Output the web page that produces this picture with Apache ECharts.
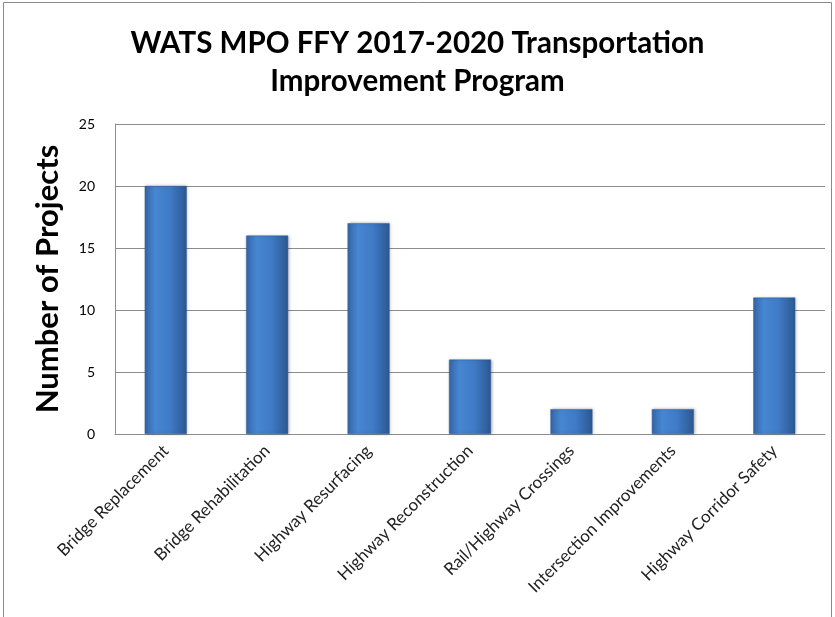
<!DOCTYPE html>
<html>
<head>
<meta charset="utf-8">
<script src="https://cdn.jsdelivr.net/npm/echarts@6/dist/echarts.min.js"></script>
<style>
  html, body { margin: 0; padding: 0; background: #fff; }
  #ChartBar { width: 835px; height: 617px; }
</style>
</head>
<body>
<div id="ChartBar"></div>
<script>
var categories = ['Bridge Replacement', 'Bridge Rehabilitation', 'Highway Resurfacing', 'Highway Reconstruction', 'Rail/Highway Crossings', 'Intersection Improvements', 'Highway Corridor Safety'];
var projectCounts = [20, 16, 17, 6, 2, 2, 11];
var yTicks = [0, 5, 10, 15, 20, 25];

var barChart = echarts.init(document.getElementById('ChartBar'));

var barColor = new echarts.graphic.LinearGradient(0, 0, 1, 0, [
  { offset: 0, color: '#3567a8' },
  { offset: 0.25, color: '#4786d2' },
  { offset: 0.6, color: '#3f7bc6' },
  { offset: 1, color: '#2b5891' }
]);

var option = {
  backgroundColor: '#fff',
  animation: false,
  textStyle: { fontFamily: 'Lato, "Open Sans", sans-serif' },
  title: {
    text: 'WATS MPO FFY 2017-2020 Transportation\nImprovement Program',
    left: 'center',
    top: 19,
    textStyle: {
      fontSize: 29.5,
      fontWeight: 'bold',
      color: '#000',
      lineHeight: 38,
      fontFamily: 'Lato, sans-serif'
    }
  },
  graphic: [
    {
      type: 'rect',
      shape: { x: 3.5, y: 2.5, width: 828, height: 640 },
      style: { fill: 'none', stroke: '#8a8a8a', lineWidth: 1 },
      silent: true
    }
  ],
  grid: { left: 115, right: 10, top: 124, bottom: 183 },
  xAxis: {
    type: 'category',
    data: categories,
    axisLine: { lineStyle: { color: '#8c8c8c' } },
    axisTick: { show: false },
    axisLabel: {
      rotate: 45,
      interval: 0,
      margin: 14,
      fontSize: 17,
      color: '#222',
      fontFamily: 'Lato, sans-serif'
    }
  },
  yAxis: {
    type: 'value',
    min: yTicks[0],
    max: yTicks[yTicks.length - 1],
    interval: 5,
    name: 'Number of Projects',
    nameLocation: 'middle',
    nameGap: 52,
    nameTextStyle: { fontSize: 31, fontWeight: 'bold', color: '#000', fontFamily: 'Lato, sans-serif' },
    axisLine: { show: true, lineStyle: { color: '#8c8c8c' } },
    axisTick: { show: false },
    splitLine: { lineStyle: { color: '#8c8c8c' } },
    axisLabel: { fontSize: 14, color: '#000', margin: 20, fontFamily: 'Lato, sans-serif' }
  },
  series: [
    {
      type: 'bar',
      data: projectCounts,
      barWidth: 42,
      itemStyle: {
        color: barColor,
        borderColor: '#2f5f9a',
        borderWidth: 0.5,
        shadowColor: 'rgba(0,0,0,0.25)',
        shadowBlur: 3,
        shadowOffsetX: 1
      }
    }
  ]
};

barChart.setOption(option);
</script>
</body>
</html>
